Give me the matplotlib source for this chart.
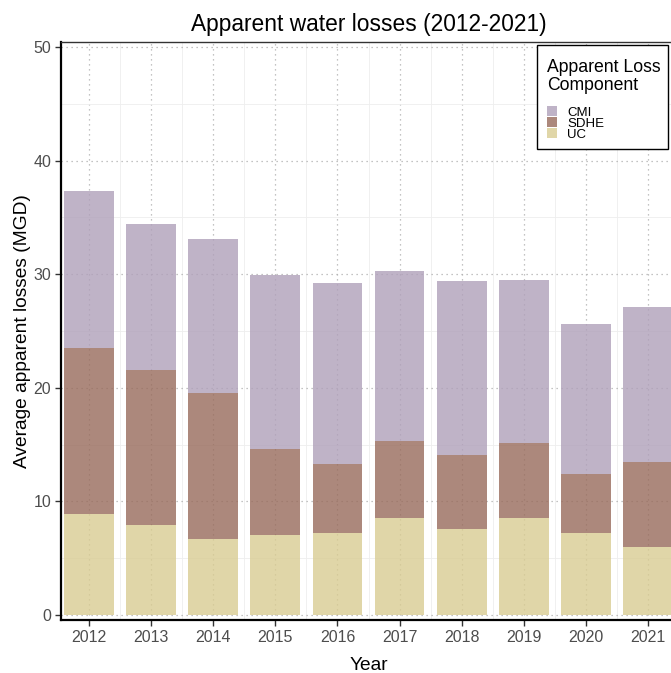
import matplotlib
matplotlib.use("Agg")
import matplotlib.pyplot as plt
from matplotlib.patches import Rectangle
import numpy as np

years = [2012, 2013, 2014, 2015, 2016, 2017, 2018, 2019, 2020, 2021]
uc = [8.9, 7.9, 6.65, 7.05, 7.2, 8.55, 7.55, 8.55, 7.2, 5.95]
sdhe = [14.6, 13.7, 12.85, 7.55, 6.1, 6.8, 6.55, 6.55, 5.2, 7.55]
cmi = [13.8, 12.8, 13.6, 15.3, 15.9, 14.9, 15.3, 14.35, 13.25, 13.65]

components = ["UC", "SDHE", "CMI"]
legend_order = ["CMI", "SDHE", "UC"]
colors = {"CMI": "#b0a0ba", "SDHE": "#986b5b", "UC": "#d9cc92"}
values = {"UC": uc, "SDHE": sdhe, "CMI": cmi}

plt.rcParams["font.family"] = ["Liberation Sans", "DejaVu Sans"]

W, H = 671, 673
fig = plt.figure(figsize=(W / 100, H / 100), dpi=100)
ax = fig.add_axes([61 / W, 53 / H, 615 / W, 578 / H])

x = np.arange(len(years))
bottom = np.zeros(len(years))
for comp in components:
    vals = np.array(values[comp])
    ax.bar(x, vals, width=0.8, bottom=bottom, color=colors[comp], alpha=0.8,
           edgecolor="none", linewidth=0, zorder=2)
    bottom += vals

ax.set_xlim(-0.45, len(years) - 1 + 0.45)
ax.set_ylim(-0.44, 50.44)
ax.set_xticks(x)
ax.set_xticklabels([str(y) for y in years])
ax.set_yticks(np.arange(0, 51, 10))
ax.set_xticks(x[:-1] + 0.5, minor=True)
ax.set_yticks(np.arange(5, 50, 10), minor=True)

ax.set_axisbelow(True)
ax.grid(which="major", color="#b0b0b0", linestyle=(0, (1, 3)), linewidth=0.9)
ax.grid(which="minor", color="#eeeeee", linestyle="-", linewidth=0.6)

ax.tick_params(axis="both", which="major", direction="out", length=4, width=1.0,
               color="#333333", labelsize=11.5, labelcolor="#4d4d4d", pad=3)
ax.tick_params(axis="both", which="minor", length=0)

for side in ["left", "bottom"]:
    ax.spines[side].set_linewidth(1.6)
    ax.spines[side].set_color("black")
for side in ["top", "right"]:
    ax.spines[side].set_linewidth(1.0)
    ax.spines[side].set_color("#333333")

ax.set_xlabel("Year", fontsize=13.8, labelpad=9)
ax.set_ylabel("Average apparent losses (MGD)", fontsize=13.8, labelpad=2)
ax.set_title("Apparent water losses (2012-2021)", fontsize=16.4, pad=8)

# Legend box drawn in figure pixel coordinates
def fx(px):
    return px / W

def fy(py):
    return 1 - py / H

fig.patches.append(Rectangle((fx(537), fy(149)), fx(668) - fx(537), fy(45) - fy(149),
                             transform=fig.transFigure, facecolor="white",
                             edgecolor="black", linewidth=1.0, zorder=5))
fig.text(fx(547), fy(67), "Apparent Loss", fontsize=12.7, va="center", ha="left", zorder=6)
fig.text(fx(547), fy(85.5), "Component", fontsize=12.7, va="center", ha="left", zorder=6)
pitch = 11.0
for i, comp in enumerate(legend_order):
    cy = 110.8 + i * pitch
    fig.patches.append(Rectangle((fx(547), fy(cy + 5)), fx(557) - fx(547), fy(cy - 5) - fy(cy + 5),
                                 transform=fig.transFigure, facecolor=colors[comp],
                                 alpha=0.8, edgecolor="none", zorder=6))
    fig.text(fx(567), fy(cy + 1), comp, fontsize=9.5, va="center_baseline", ha="left", zorder=6)

fig.savefig("out.png", dpi=100)
